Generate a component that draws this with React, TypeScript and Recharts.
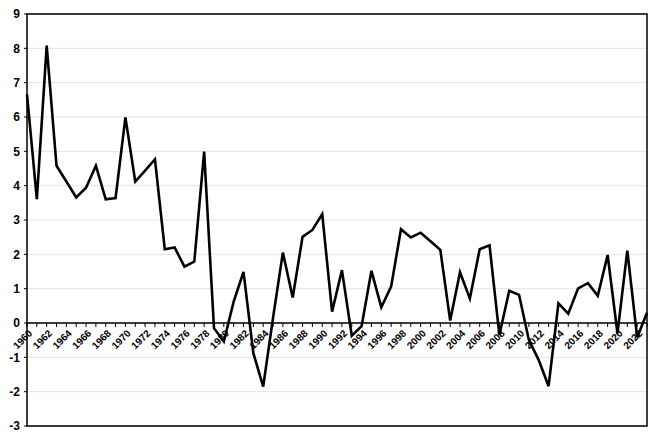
import React from 'react';
import { LineChart, Line, XAxis, YAxis, CartesianGrid, ReferenceLine, ReferenceArea } from 'recharts';

const years = [
  '1960', '1961', '1962', '1963', '1964', '1965', '1966', '1967', '1968', '1969',
  '1970', '1971', '1972', '1973', '1974', '1975', '1976', '1977', '1978', '1979',
  '1980', '1981', '1982', '1983', '1984', '1985', '1986', '1987', '1988', '1989',
  '1990', '1991', '1992', '1993', '1994', '1995', '1996', '1997', '1998', '1999',
  '2000', '2001', '2002', '2003', '2004', '2005', '2006', '2007', '2008', '2009',
  '2010', '2011', '2012', '2013', '2014', '2015', '2016', '2017', '2018', '2019',
  '2020', '2021', '2022', '2023',
];

const values = [
  6.66, 3.61, 8.08, 4.58, 4.12, 3.66, 3.94, 4.58, 3.6, 3.64,
  5.99, 4.12, 4.44, 4.77, 2.15, 2.2, 1.64, 1.79, 4.99, -0.15,
  -0.54, 0.62, 1.49, -0.88, -1.85, 0.15, 2.05, 0.74, 2.51, 2.71,
  3.17, 0.33, 1.54, -0.37, -0.09, 1.52, 0.46, 1.06, 2.73, 2.49,
  2.63, 2.38, 2.13, 0.07, 1.48, 0.71, 2.15, 2.26, -0.35, 0.94,
  0.82, -0.5, -1.08, -1.84, 0.57, 0.27, 1.01, 1.16, 0.79, 1.98,
  -0.3, 2.11, -0.42, 0.3,
];

const yTicks = [-3, -2, -1, 0, 1, 2, 3, 4, 5, 6, 7, 8, 9];

const data = years.map((year, i) => ({ year, value: values[i] }));

const WIDTH = 656;
const HEIGHT = 439;
const MARGIN = { top: 14, right: 9, bottom: 12, left: 0 };
const X_AXIS_H = 1;
const Y_MIN = -3;
const Y_MAX = 9;
const PLOT_H = HEIGHT - MARGIN.top - MARGIN.bottom - X_AXIS_H;
// the category axis crosses at zero, not at the bottom of the plot
const ZERO_Y = MARGIN.top + (PLOT_H * Y_MAX) / (Y_MAX - Y_MIN);

const font = '"Liberation Sans", Arial, sans-serif';

// year labels run up-right at 45deg along a short path, ending under the tick
const YearTick = (props: any) => {
  const { x, payload } = props;
  const label = payload.value as string;
  const showLabel = Number(label) % 2 === 0;
  const ex = x + 6;
  const ey = ZERO_Y + 11;
  const id = `year-path-${label}`;
  return (
    <g>
      <line x1={x} y1={ZERO_Y} x2={x} y2={ZERO_Y + 4} stroke="#000" strokeWidth={1} />
      {showLabel && (
        <>
          <path id={id} d={`M ${ex - 40} ${ey + 40} L ${ex} ${ey}`} fill="none" stroke="none" />
          <text style={{ fontFamily: font, fontWeight: 700, fontSize: 10 }} fill="#000">
            <textPath href={`#${id}`} startOffset="100%" textAnchor="end">
              {label}
            </textPath>
          </text>
        </>
      )}
    </g>
  );
};

const ValueTick = (props: any) => {
  const { x, y, payload } = props;
  return (
    <text
      x={x}
      y={y}
      dy="0.36em"
      textAnchor="end"
      style={{ fontFamily: font, fontWeight: 700, fontSize: 12 }}
      fill="#000"
    >
      {payload.value}
    </text>
  );
};

export default function App() {
  return (
    <div style={{ position: 'absolute', left: 0, top: 0, background: '#fff' }}>
      <LineChart width={WIDTH} height={HEIGHT} data={data} margin={MARGIN}>
        <CartesianGrid vertical={false} stroke="#e3e3e3" strokeWidth={1} />
        <XAxis
          dataKey="year"
          interval={0}
          height={X_AXIS_H}
          tickLine={false}
          axisLine={false}
          tick={<YearTick />}
          padding={{ left: 0, right: 0 }}
        />
        <YAxis
          domain={[Y_MIN, Y_MAX]}
          ticks={yTicks}
          interval={0}
          width={27}
          tickSize={3}
          tickMargin={4}
          tickLine={{ stroke: '#000' }}
          axisLine={false}
          tick={<ValueTick />}
        />
        <ReferenceArea
          x1={years[0]}
          x2={years[years.length - 1]}
          y1={Y_MIN}
          y2={Y_MAX}
          fill="none"
          fillOpacity={0}
          stroke="#000"
          strokeWidth={1.5}
          strokeOpacity={1}
        />
        <ReferenceLine y={0} stroke="#000" strokeWidth={1.5} />
        <Line
          type="linear"
          dataKey="value"
          stroke="#000"
          strokeWidth={2.6}
          dot={false}
          isAnimationActive={false}
        />
      </LineChart>
    </div>
  );
}
